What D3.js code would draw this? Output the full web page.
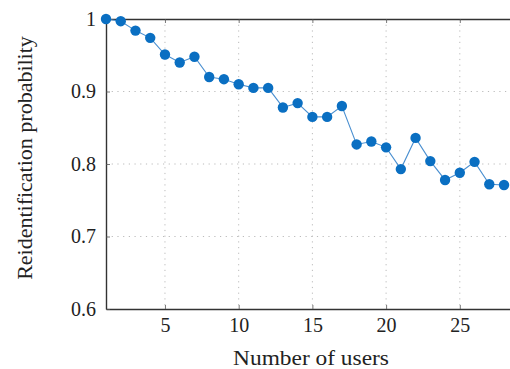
<!DOCTYPE html>
<html><head><meta charset="utf-8">
<script src="https://cdn.jsdelivr.net/npm/d3@7"></script>
<style>body{margin:0;background:#fff}svg{display:block}svg text{font-family:"Liberation Serif" !important;}</style>
</head><body>
<script>
const users = [1,2,3,4,5,6,7,8,9,10,11,12,13,14,15,16,17,18,19,20,21,22,23,24,25,26,27,28];
const probability = [1.0,0.997,0.984,0.974,0.951,0.940,0.948,0.920,0.917,0.910,0.905,0.905,0.878,0.884,0.865,0.865,0.880,0.827,0.831,0.823,0.793,0.836,0.804,0.778,0.788,0.803,0.772,0.771];
const xTicks = [5,10,15,20,25];
const yTicks = [0.6,0.7,0.8,0.9,1.0];

const W=510,H=369;
const font="Liberation Serif";
const svg=d3.select("body").append("svg").attr("width",W).attr("height",H).attr("font-family",font);
const x=d3.scaleLinear().domain([1,28.5]).range([106,511.4]);
const y=d3.scaleLinear().domain([0.6,1.0]).range([309,19]);
const grid=svg.append("g");
xTicks.forEach(t=>grid.append("line").attr("x1",x(t)).attr("x2",x(t)).attr("y1",19).attr("y2",309)
  .attr("stroke","#bbb").attr("stroke-width",1).attr("stroke-dasharray","1.2,4.5"));
yTicks.slice(1,4).forEach(t=>grid.append("line").attr("x1",106).attr("x2",511).attr("y1",y(t)).attr("y2",y(t))
  .attr("stroke","#bbb").attr("stroke-width",1).attr("stroke-dasharray","1.2,4.5"));

const xb=d3.axisBottom(x).tickValues(xTicks).tickSizeInner(-4).tickSizeOuter(0).tickPadding(9).tickFormat(d3.format("d"));
const xt=d3.axisTop(x).tickValues(xTicks).tickSizeInner(-4).tickSizeOuter(0).tickFormat("");
const yl=d3.axisLeft(y).tickValues(yTicks).tickSizeInner(-4).tickSizeOuter(0).tickPadding(10).tickFormat(d=>d===1?"1":d3.format(".1f")(d));
function style(g){g.attr("font-family",font).attr("font-size",20);
  g.select(".domain").attr("stroke","#333").attr("stroke-width",1.4);
  g.selectAll(".tick line").attr("stroke","#555").attr("stroke-width",0.8);
  g.selectAll("text").attr("fill","#222");}
svg.append("g").attr("transform","translate(0,309)").call(xb).call(style);
svg.append("g").attr("transform","translate(0,19)").call(xt).call(style);
svg.append("g").attr("transform","translate(106,0)").call(yl).call(style);

const data=users.map((u,i)=>({u,p:probability[i]}));
svg.append("path").datum(data).attr("fill","none").attr("stroke","#4a8fd0").attr("stroke-width",1.1)
  .attr("d",d3.line().x(d=>x(d.u)).y(d=>y(d.p)));
svg.selectAll("circle.pt").data(data).enter().append("circle").attr("class","pt")
  .attr("cx",d=>x(d.u)).attr("cy",d=>y(d.p)).attr("r",5.2).attr("fill","#0a6fc2");

svg.append("text").attr("transform","translate(311,365) scale(1.17,1)").attr("text-anchor","middle")
  .attr("font-size",20).attr("fill","#222").text("Number of users");
svg.append("text").attr("transform","translate(32,158) rotate(-90) scale(1.1,1)").attr("text-anchor","middle")
  .attr("font-size",20).attr("fill","#222").text("Reidentification probability");
</script>
</body></html>
